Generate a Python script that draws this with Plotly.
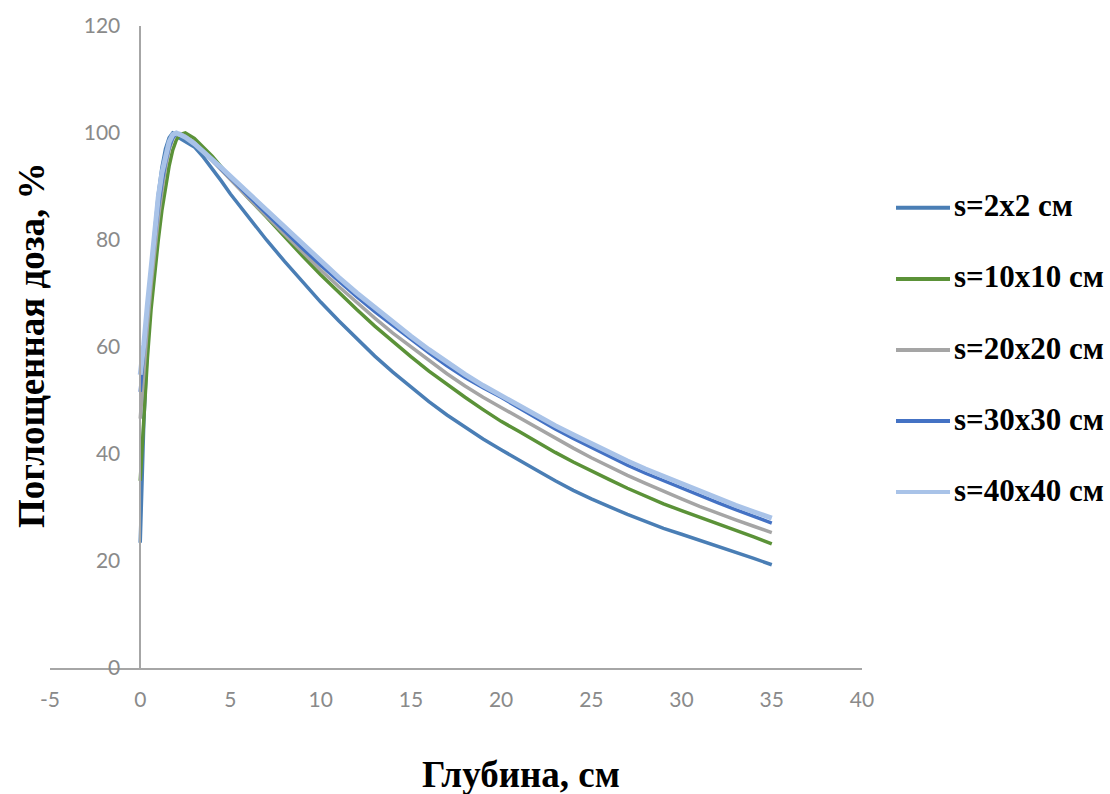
import plotly.graph_objects as go

# Depth (cm) and percent depth dose for each field size
depth = [0, 0.1, 0.2, 0.4, 0.6, 0.8, 1.0, 1.2, 1.4, 1.6, 1.8, 2.0, 2.2, 2.5,
         3.0, 3.5, 4.0, 4.5,
         5, 6, 7, 8, 9, 10, 11, 12, 13, 14, 15, 16, 17, 18, 19, 20,
         21, 22, 23, 24, 25, 26, 27, 28, 29, 30, 31, 32, 33, 34, 35]

dose_2x2 = [23.4, 36.0, 46.0, 61.0, 72.5, 81.5, 88.5, 93.5, 97.0, 99.1, 100.0, 99.7, 99.0, 98.4,
            97.4, 95.5, 93.3, 91.0,
            88.6, 84.2, 80.0, 76.0, 72.1, 68.4, 64.9, 61.5, 58.3, 55.3, 52.5, 49.8, 47.3, 45.0, 42.8, 40.8,
            38.8, 36.9, 35.0, 33.2, 31.6, 30.1, 28.7, 27.4, 26.1, 25.0, 23.9, 22.8, 21.7, 20.5, 19.3]

dose_10x10 = [35.0, 41.0, 47.0, 58.0, 67.0, 74.0, 80.0, 85.5, 90.0, 93.8, 96.8, 98.7, 99.7, 100.0,
              99.0, 97.4, 95.6, 93.6,
              91.6, 87.8, 84.3, 80.6, 77.0, 73.5, 70.2, 67.0, 63.9, 61.0, 58.2, 55.5, 53.0, 50.6, 48.3, 46.1,
              44.2, 42.2, 40.3, 38.5, 36.8, 35.2, 33.6, 32.1, 30.7, 29.4, 28.2, 26.9, 25.7, 24.5, 23.2]

dose_20x20 = [46.6, 51.5, 56.0, 64.0, 71.5, 78.0, 84.0, 89.0, 93.5, 96.8, 98.9, 99.8, 99.9, 99.4,
              98.2, 96.6, 94.9, 93.1,
              91.3, 87.8, 84.4, 81.0, 77.6, 74.4, 71.3, 68.3, 65.4, 62.6, 60.0, 57.4, 55.0, 52.7, 50.6, 48.7,
              46.8, 44.8, 42.9, 41.1, 39.3, 37.6, 36.0, 34.5, 33.0, 31.6, 30.2, 28.9, 27.7, 26.5, 25.3]

dose_30x30 = [51.6, 56.0, 60.0, 67.5, 74.5, 80.5, 86.0, 90.7, 94.5, 97.3, 99.1, 99.9, 99.8, 99.2,
              98.0, 96.5, 94.9, 93.3,
              91.6, 88.2, 84.9, 81.6, 78.4, 75.3, 72.3, 69.4, 66.6, 64.0, 61.4, 58.9, 56.5, 54.3, 52.4, 50.6,
              48.6, 46.6, 44.7, 42.9, 41.2, 39.5, 37.9, 36.4, 35.0, 33.6, 32.2, 30.9, 29.6, 28.3, 27.1]

dose_40x40 = [54.8, 57.5, 60.5, 68.0, 75.5, 82.0, 88.0, 92.5, 95.8, 98.3, 99.7, 100.0, 99.7, 99.2,
              98.0, 96.6, 95.1, 93.5,
              91.9, 88.7, 85.5, 82.3, 79.1, 76.0, 73.0, 70.1, 67.3, 64.6, 62.0, 59.5, 57.1, 54.9, 52.8, 50.9,
              49.0, 47.1, 45.3, 43.6, 41.9, 40.3, 38.7, 37.2, 35.8, 34.4, 33.0, 31.7, 30.4, 29.2, 28.0]

series_names = ["s=2x2 см", "s=10x10 см", "s=20x20 см", "s=30x30 см", "s=40x40 см"]
series_values = [dose_2x2, dose_10x10, dose_20x20, dose_30x30, dose_40x40]
series_colors = ["#4A7EB5", "#5B9238", "#A5A5A5", "#4472C4", "#A9C3E8"]
series_widths = [3.5, 3.5, 3.5, 3.5, 5]

x_ticks = [-5, 0, 5, 10, 15, 20, 25, 30, 35, 40]
y_ticks = [0, 20, 40, 60, 80, 100, 120]

# Canvas geometry (pixels)
W, H = 1110, 794
ML, MR, MT, MB = 50, 248, 22, 126
PW, PH = W - ML - MR, H - MT - MB

def px_to_paper_x(px):
    return (px - ML) / PW

def px_to_paper_y(py):
    return (H - MB - py) / PH

fig = go.Figure()
for name, vals, col, lw in zip(series_names, series_values, series_colors, series_widths):
    fig.add_trace(go.Scatter(
        x=depth, y=vals, mode="lines", name=name,
        line=dict(color=col, width=lw), showlegend=False,
    ))

tick_font = dict(family="Lato, Open Sans, sans-serif", size=21, color="#8A8A8A")
title_font = dict(family="Liberation Serif, Times New Roman, serif", size=37, color="#000000")
legend_font = dict(family="Liberation Serif, Times New Roman, serif", size=31, color="#000000")

x_min, x_max = x_ticks[0], x_ticks[-1]
fig.update_layout(
    width=W, height=H,
    margin=dict(l=ML, r=MR, t=MT, b=MB, pad=0),
    paper_bgcolor="white", plot_bgcolor="white",
    xaxis=dict(
        range=[x_min, x_max], tickvals=x_ticks, ticktext=[str(v) for v in x_ticks],
        showgrid=False, zeroline=False, showline=True, linecolor="#A6A6A6", linewidth=1.5,
        ticks="", tickfont=tick_font, ticklabelstandoff=12, domain=[0, 1],
    ),
    yaxis=dict(
        range=[0, 120], tickvals=y_ticks, ticktext=[str(v) for v in y_ticks],
        showgrid=False, zeroline=False, showline=True, linecolor="#A6A6A6", linewidth=1.5,
        ticks="", tickfont=tick_font, ticklabelstandoff=15,
        anchor="free", position=(0 - x_min) / (x_max - x_min),
    ),
)

# Axis titles
fig.add_annotation(
    text="<b>Глубина, см</b>", xref="paper", yref="paper",
    x=px_to_paper_x(521), y=px_to_paper_y(775), showarrow=False,
    xanchor="center", yanchor="middle", font=title_font,
)
fig.add_annotation(
    text="<b>Поглощенная доза, %</b>", xref="paper", yref="paper",
    x=px_to_paper_x(31), y=px_to_paper_y(343), showarrow=False,
    xanchor="center", yanchor="middle", textangle=-90, font=title_font,
)

# Legend: line samples with labels at the right of the plot
legend_top, legend_step = 205, 71.5
for i, (name, col, lw) in enumerate(zip(series_names, series_colors, series_widths)):
    yy = px_to_paper_y(legend_top + i * legend_step)
    fig.add_shape(
        type="line", xref="paper", yref="paper",
        x0=px_to_paper_x(896), x1=px_to_paper_x(950), y0=yy, y1=yy,
        line=dict(color=col, width=4),
    )
    fig.add_annotation(
        text=f"<b>{name}</b>", xref="paper", yref="paper",
        x=px_to_paper_x(952), y=yy + 0.003, showarrow=False,
        xanchor="left", yanchor="middle", font=legend_font,
    )

fig.write_html("out.html")
